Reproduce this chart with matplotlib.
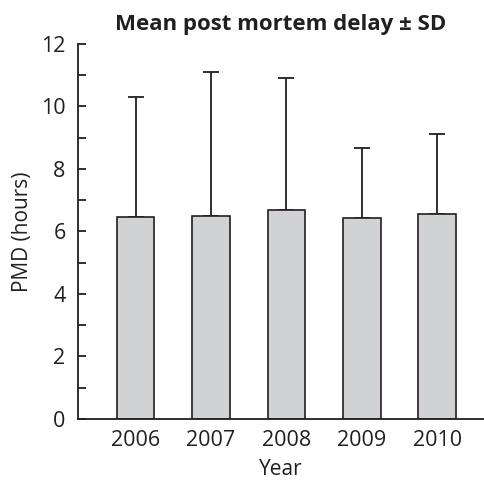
import numpy as np
import matplotlib.pyplot as plt

plt.rcParams['font.family'] = ['Open Sans', 'DejaVu Sans']

years = ['2006', '2007', '2008', '2009', '2010']
mean_pmd = [6.45, 6.50, 6.69, 6.44, 6.55]
sd_pmd = [3.84, 4.60, 4.21, 2.22, 2.58]

ink = '#231f20'

fig = plt.figure(figsize=(4.85, 4.86), dpi=100)
ax = fig.add_axes([0.161, 0.138, 0.837, 0.7715])

x = np.arange(len(years))
ax.bar(x, mean_pmd, width=0.5, color='#d1d2d4', edgecolor=ink, linewidth=1.2, zorder=2)
ax.errorbar(x, mean_pmd, yerr=[np.zeros(len(x)), sd_pmd], fmt='none',
            ecolor=ink, elinewidth=1.3, capsize=5.8, capthick=1.3, zorder=1)

ax.set_xlim(-0.763, 4.62)
ax.set_ylim(0, 12)
ax.set_yticks(range(0, 13, 2))
ax.set_yticks(range(1, 12, 2), minor=True)
ax.set_xticks(x)
ax.set_xticklabels(years)

for side in ('top', 'right'):
    ax.spines[side].set_visible(False)
for side in ('left', 'bottom'):
    ax.spines[side].set_color(ink)
    ax.spines[side].set_linewidth(1.3)

ax.tick_params(axis='y', which='both', direction='in', length=6, width=1.3,
               color=ink, labelsize=15.5, labelcolor=ink, pad=9)
ax.tick_params(axis='x', length=0, labelsize=15.5, labelcolor=ink, pad=8)

ax.set_xlabel('Year', fontsize=15, color=ink, labelpad=6)
ax.set_ylabel('PMD (hours)', fontsize=15, color=ink, labelpad=6)
ax.set_title('Mean post mortem delay ± SD', fontsize=16, fontweight='bold',
             color=ink, pad=10)

fig.savefig('out.png', dpi=100)
